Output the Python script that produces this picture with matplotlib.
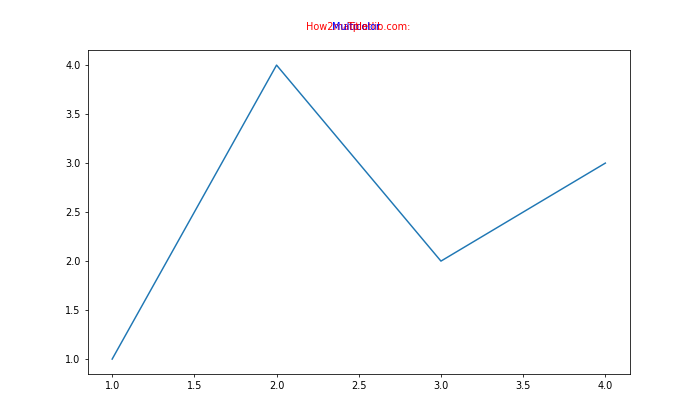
import matplotlib
matplotlib.use('Agg')
import matplotlib.pyplot as plt

x = [1, 2, 3, 4]
y = [1, 4, 2, 3]

fig, ax = plt.subplots(figsize=(10, 6), dpi=70)
ax.plot(x, y)

# tres textos superpuestos en el mismo sitio
fig.text(0.511, 0.928, 'How2matplotlib.com:', color='red', ha='center', va='baseline', fontsize=10)
fig.text(0.509, 0.928, 'Multicolor', color='blue', ha='center', va='baseline', fontsize=10)
fig.text(0.511, 0.928, 'Title', color='red', ha='center', va='baseline', fontsize=10)

fig.savefig('out.png', dpi=70)
